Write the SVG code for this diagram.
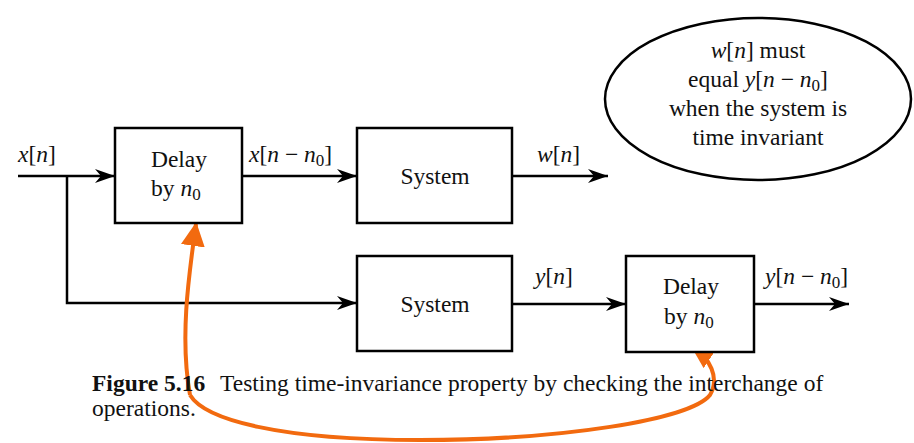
<svg xmlns="http://www.w3.org/2000/svg" width="914" height="443" viewBox="0 0 914 443">
<style>
.box{fill:#fff;stroke:#000;stroke-width:2.5}
.ln{fill:none;stroke:#000;stroke-width:2.5}
text{font-family:"Liberation Serif","Times New Roman",serif;font-size:23.5px;fill:#111}
.c{text-anchor:middle}
.i{font-style:italic}
.s{font-size:17px}
</style>
<defs>
<marker id="ah" markerWidth="22" markerHeight="16" refX="20" refY="8" orient="auto" markerUnits="userSpaceOnUse">
<path d="M0,1 L20,8 L0,15 L6,8 Z" fill="#000"/>
</marker>
<marker id="oh" markerWidth="26" markerHeight="24" refX="22" refY="12" orient="auto" markerUnits="userSpaceOnUse">
<path d="M0,0 L24,12 L0,24 Z" fill="#F26A0F"/>
</marker>
</defs>
<g id="connectors">
<path class="ln" d="M18,176 H115" marker-end="url(#ah)"/>
<path class="ln" d="M67,176 V303 H357" marker-end="url(#ah)"/>
<path class="ln" d="M242,176 H357" marker-end="url(#ah)"/>
<path class="ln" d="M512,176 H608" marker-end="url(#ah)"/>
<path class="ln" d="M512,304 H626" marker-end="url(#ah)"/>
<path class="ln" d="M754,304 H849" marker-end="url(#ah)"/>
<path d="M190,395 C180,340 188,280 196,224" fill="none" stroke="#F26A0F" stroke-width="4" marker-end="url(#oh)"/>
<path d="M190,395 C205,420 280,440 420,440 C560,440 690,420 710,395 C720,378 710,358 692,346" fill="none" stroke="#F26A0F" stroke-width="4" marker-end="url(#oh)"/>
</g>
<g id="delay1">
<rect class="box" x="115" y="128" width="127" height="95"/>
<text class="c" x="179" y="167">Delay</text>
<text x="151" y="196">by <tspan class="i">n</tspan><tspan class="s" dy="4">0</tspan></text>
</g>
<g id="system1">
<rect class="box" x="357" y="128" width="155" height="95"/>
<text class="c" x="435" y="184">System</text>
</g>
<g id="system2">
<rect class="box" x="357" y="256" width="155" height="95"/>
<text class="c" x="435" y="312">System</text>
</g>
<g id="delay2">
<rect class="box" x="626" y="256" width="128" height="96"/>
<text class="c" x="691" y="294">Delay</text>
<text x="664" y="324">by <tspan class="i">n</tspan><tspan class="s" dy="4">0</tspan></text>
</g>
<g id="labels">
<text x="18" y="162"><tspan class="i">x</tspan>[<tspan class="i">n</tspan>]</text>
<text x="249" y="162"><tspan class="i">x</tspan>[<tspan class="i">n</tspan> − <tspan class="i">n</tspan><tspan class="s" dy="4">0</tspan><tspan dy="-4">]</tspan></text>
<text x="537" y="162"><tspan class="i">w</tspan>[<tspan class="i">n</tspan>]</text>
<text x="535" y="284"><tspan class="i">y</tspan>[<tspan class="i">n</tspan>]</text>
<text x="765" y="284"><tspan class="i">y</tspan>[<tspan class="i">n</tspan> − <tspan class="i">n</tspan><tspan class="s" dy="4">0</tspan><tspan dy="-4">]</tspan></text>
</g>
<g id="note">
<ellipse cx="758" cy="99" rx="153" ry="81" fill="#fff" stroke="#000" stroke-width="2.5"/>
<text class="c" x="758" y="58"><tspan class="i">w</tspan>[<tspan class="i">n</tspan>] must</text>
<text class="c" x="758" y="87">equal <tspan class="i">y</tspan>[<tspan class="i">n</tspan> − <tspan class="i">n</tspan><tspan class="s" dy="4">0</tspan><tspan dy="-4">]</tspan></text>
<text class="c" x="758" y="116">when the system is</text>
<text class="c" x="758" y="145">time invariant</text>
</g>
<g id="caption">
<text x="92" y="391" font-weight="bold">Figure 5.16</text>
<text x="220" y="391">Testing time-invariance property by checking the interchange of</text>
<text x="92" y="416">operations.</text>
</g>
</svg>
